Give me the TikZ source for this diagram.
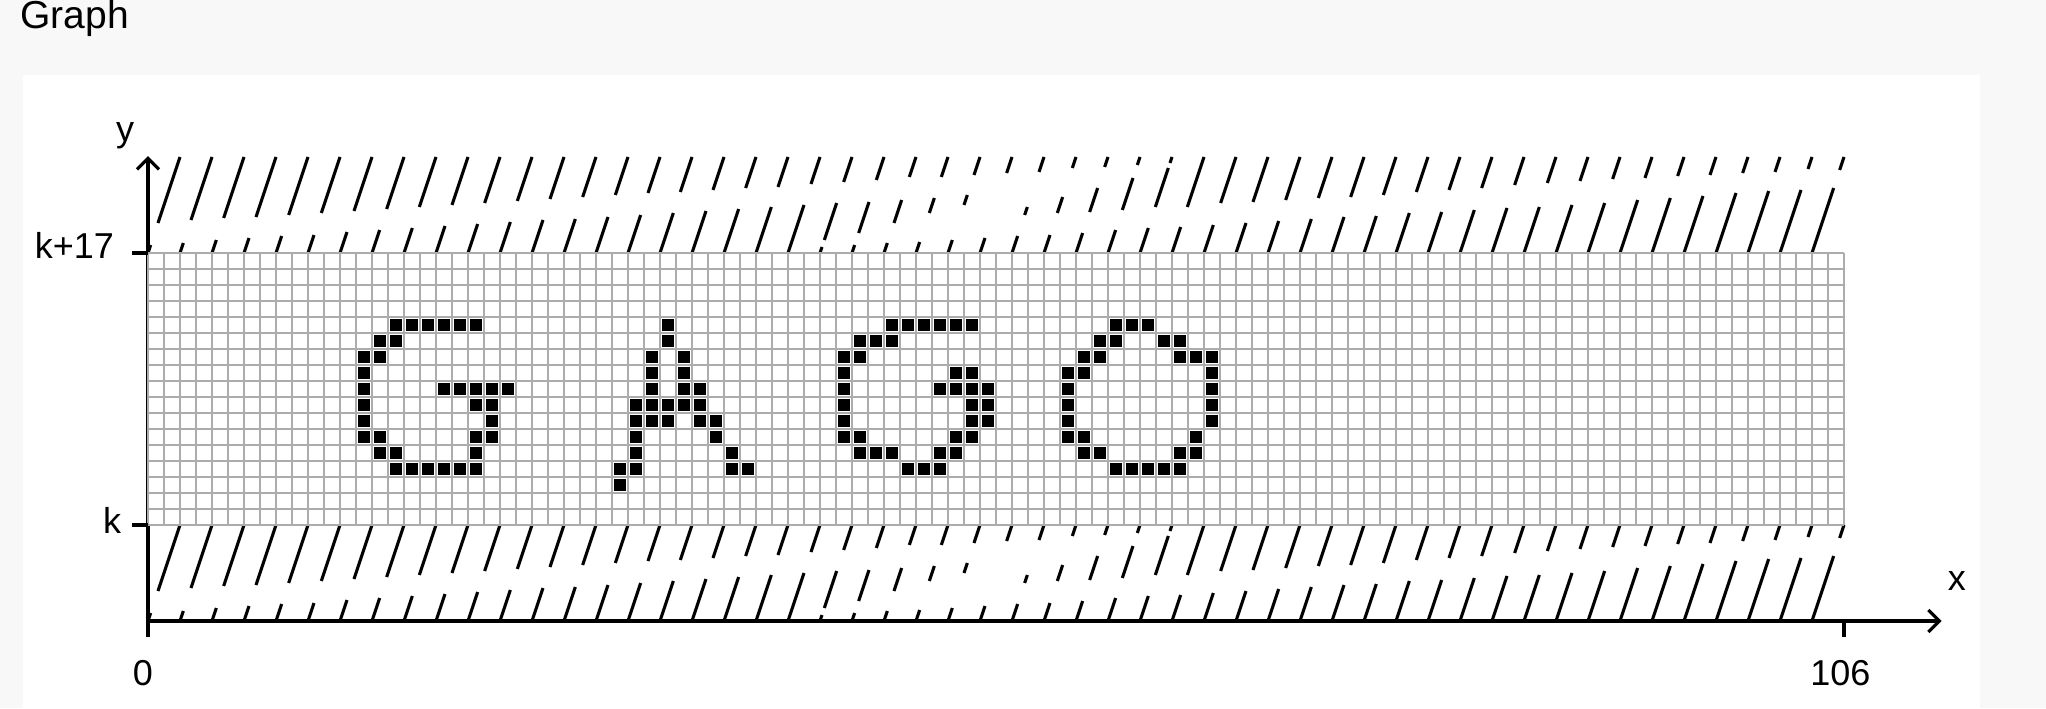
\documentclass[tikz,border=0pt]{standalone}
\usepackage{fontspec}
\setmainfont{Liberation Sans}
\usetikzlibrary{arrows.meta}
\definecolor{pagebg}{RGB}{248,248,248}
\definecolor{gridgray}{RGB}{172,172,172}
\begin{document}
\begin{tikzpicture}[x=8pt,y=8pt,
  hatch/.style={line width=1.55pt, black},
  axisline/.style={line width=1.6pt, black},
  gridline/.style={line width=0.85pt, gridgray},
  cellfill/.style={fill=black},
  lbl/.style={font=\fontsize{18}{21}\selectfont, inner sep=0pt},
  titlelbl/.style={font=\fontsize{19.5}{23}\selectfont, inner sep=0pt},
  barb/.style={-{Straight Barb[length=5.5pt,width=11pt]}}
]
\useasboundingbox (-9.25,-11.4375) rectangle (118.625,32.8125);
\fill[pagebg] (-9.25,-11.4375) rectangle (118.625,32.8125);
\fill[white] (-7.8125,-11.4375) rectangle (114.5,28.125);
% hatching (top band above k+17 and bottom band below k)
\foreach \i/\a/\b in {
 0/0/8, 0/30/96, 1/0/10, 1/33/96, 2/0/13, 2/35/96, 3/0/15, 3/36/96,
 4/0/17, 4/38/96, 5/0/18, 5/40/96, 6/0/21, 6/42/96, 7/0/23, 7/44/96,
 8/0/25, 8/46/96, 9/0/27, 9/48/96, 10/0/29, 10/50/96, 11/0/31, 11/52/96,
 12/0/33, 12/54/96, 13/0/34, 13/56/96, 14/0/36, 14/58/96, 15/0/38, 15/60/96,
 16/0/40, 16/61/96, 17/0/42, 17/63/96, 18/0/44, 18/65/96, 19/0/46, 19/66/96,
 20/0/48, 20/69/96,
 21/0/6, 21/13/50, 21/71/96, 22/0/8, 22/20/51, 22/73/96,
 23/0/10, 23/30/53, 23/76/96, 24/0/11, 24/40/55, 24/76/96,
 25/0/13, 25/48/58, 25/78/96, 26/0/15, 26/80/96,
 27/0/17, 27/38/46, 27/81/96, 28/0/18, 28/40/56, 28/85/96,
 29/0/20, 29/41/65, 29/86/96, 30/0/23, 30/43/75, 30/88/96,
 31/0/25, 31/46/85, 31/90/96, 32/0/26, 32/46/96,
 33/0/28, 33/50/96, 34/0/30, 34/51/96, 35/0/32, 35/53/96, 36/0/34, 36/55/96,
 37/0/36, 37/56/96, 38/0/37, 38/58/96, 39/0/40, 39/61/96, 40/0/41, 40/63/96,
 41/0/43, 41/65/96, 42/0/45, 42/68/96, 43/0/46, 43/70/96, 44/0/48, 44/72/96,
 45/0/50, 45/74/96, 46/0/53, 46/75/96, 47/0/55, 47/77/96, 48/0/57, 48/78/96,
 49/0/60, 49/80/96, 50/0/62, 50/81/96, 51/0/63, 51/84/96, 52/0/65, 52/83/96}{
  \foreach \yb in {17,-6}{
    \draw[hatch] ({2*\i+\a/48},{\yb+\a/16}) -- ({2*\i+\b/48},{\yb+\b/16});
  }
}
% y axis (passes behind the grid)
\coordinate (ybot) at (0,-7);
\coordinate (ytop) at (0,23.05);
\draw[axisline,barb] (ybot) -- (ytop);
% grid
\fill[white] (0,0) rectangle (106,17);
\foreach \gx in {0,...,106}{
  \draw[gridline] (\gx,0) -- (\gx,17);
}
\foreach \gy in {0,...,17}{
  \draw[gridline] (0,\gy) -- (106,\gy);
}
% black cells
\foreach \r/\cs in {
 12/{15,16,17,18,19,20,32,46,47,48,49,50,51,60,61,62},
 11/{14,15,32,44,45,46,59,60,63,64},
 10/{13,14,31,33,43,44,58,59,64,65,66},
 9/{13,31,33,43,50,51,57,58,66},
 8/{13,18,19,20,21,22,31,33,34,43,49,50,51,52,57,66},
 7/{13,20,21,30,31,32,33,34,43,51,52,57,66},
 6/{13,21,30,31,32,34,35,43,51,52,57,66},
 5/{13,14,20,21,30,35,43,44,50,51,57,58,65},
 4/{14,15,20,30,36,44,45,46,49,50,58,59,64,65},
 3/{15,16,17,18,19,20,29,30,36,37,47,48,49,60,61,62,63,64},
 2/{29}}{
  \foreach \c in \cs {
    \fill[cellfill] (\c+0.15,\r+0.15) rectangle (\c+0.85,\r+0.85);
  }
}
% x axis
\coordinate (xo) at (0,-6);
\coordinate (xend) at (112.1,-6);
\draw[axisline,barb] (xo) -- (xend);
% ticks
\coordinate (t106a) at (106,-6);
\coordinate (t106b) at (106,-7);
\draw[axisline] (t106a) -- (t106b);
\coordinate (tk17a) at (-1,17);
\coordinate (tk17b) at (0,17);
\draw[axisline] (tk17a) -- (tk17b);
\coordinate (tka) at (-1,0);
\coordinate (tkb) at (0,0);
\draw[axisline] (tka) -- (tkb);
% labels
\node[titlelbl, anchor=base west] (title) at (-8.0,31.05) {Graph};
\node[lbl, anchor=base] (ylab) at (-1.4375,24) {y};
\node[lbl, anchor=base east] (k17) at (-2.1,16.6875) {k+17};
\node[lbl, anchor=base east] (k0) at (-1.65,-0.5) {k};
\node[lbl, anchor=base] (zero) at (-0.3125,-10) {0};
\node[lbl, anchor=base] (n106) at (105.78,-10) {106};
\node[lbl, anchor=base] (xlab) at (113.06,-4.0625) {x};
\end{tikzpicture}
\end{document}
